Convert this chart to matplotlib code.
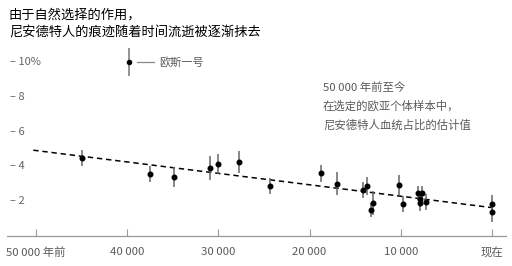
import matplotlib

matplotlib.use("Agg")
import matplotlib.pyplot as plt  # noqa: E402
import matplotlib.transforms as mtransforms  # noqa: E402

plt.rcParams["font.family"] = ["Noto Sans CJK SC", "DejaVu Sans"]

# years before present, Neanderthal ancestry (%) and error half-widths
years = [45000, 37500, 34900, 30900, 30000, 27700, 24300, 18750, 17000,
         14150, 13700, 13250, 13050, 10200, 9760, 8110, 7680, 7850, 7900,
         7240, 0, 0]
ancestry = [4.48, 3.56, 3.39, 3.9, 4.14, 4.25, 2.87, 3.6, 3.0,
            2.64, 2.87, 1.5, 1.9, 2.93, 1.84, 2.47, 2.47, 2.1, 1.9,
            1.95, 1.84, 1.38]
errors = [0.45, 0.45, 0.55, 0.7, 0.55, 0.65, 0.45, 0.5, 0.65,
          0.45, 0.5, 0.42, 0.7, 0.6, 0.48, 0.43, 0.43, 0.45, 0.45,
          0.45, 0.5, 0.6]

# Oase 1
oase_year = 39800
oase_value = 10.0
oase_err = 0.8

trend_years = [50300, 0]
trend_values = [4.93, 1.63]

xticks = [50000, 40000, 30000, 20000, 10000, 0]
xtick_labels = ["50 000 年前", "40 000", "30 000", "20 000", "10 000", "现在"]
yticks = [10, 8, 6, 4, 2]
ytick_labels = ["– 10%", "– 8", "– 6", "– 4", "– 2"]

W, H = 512, 266
fig = plt.figure(figsize=(W / 100, H / 100), dpi=100)
ax = fig.add_axes([7 / W, (H - 236) / H, 499 / W, 196 / H])
ax.set_xlim(53180, -1535)
ax.set_ylim(0, 11.26)

gray = "#5a5a5a"
ax.plot(trend_years, trend_values, ls=(0, (3.5, 2.5)), color="black", lw=1.1, zorder=2)
ax.errorbar(years, ancestry, yerr=errors, fmt="o", ms=3.3, color="black",
            ecolor="#666666", elinewidth=1.1, capsize=0, zorder=3)
ax.errorbar([oase_year], [oase_value], yerr=[oase_err], fmt="o", ms=3.0,
            color="black", ecolor="#777777", elinewidth=1.1, capsize=0, zorder=3)
ax.plot([38900, 37100], [oase_value, oase_value], color="#888888", lw=0.9)
ax.text(36500, oase_value, "欧斯一号", fontsize=8, color=gray, va="center", ha="left")

for sp in ["top", "left", "right"]:
    ax.spines[sp].set_visible(False)
ax.spines["bottom"].set_color("#999999")
ax.spines["bottom"].set_linewidth(0.9)
ax.set_yticks([])
ax.set_xticks(xticks)
ax.set_xticklabels(xtick_labels)
ax.tick_params(axis="x", direction="in", length=5, width=0.8, color="#999999",
               labelsize=8.2, labelcolor=gray, pad=8)

trans = mtransforms.blended_transform_factory(ax.transAxes, ax.transData)
for y, lab in zip(yticks, ytick_labels):
    ax.text(0.006, y, lab, transform=trans, fontsize=8, color="#666666",
            va="center", ha="left")

fig.text(9 / W, 1 - 15 / H, "由于自然选择的作用，", fontsize=9.5, color="black",
         va="center", ha="left")
fig.text(9 / W, 1 - 33 / H, "尼安德特人的痕迹随着时间流逝被逐渐抹去", fontsize=9.5,
         color="black", va="center", ha="left")

note = ["50 000 年前至今", "在选定的欧亚个体样本中，", "尼安德特人血统占比的估计值"]
for i, line in enumerate(note):
    fig.text(323 / W, 1 - (88 + 18.5 * i) / H, line, fontsize=8.2, color=gray,
             va="center", ha="left")

fig.savefig("out.png", dpi=100)
